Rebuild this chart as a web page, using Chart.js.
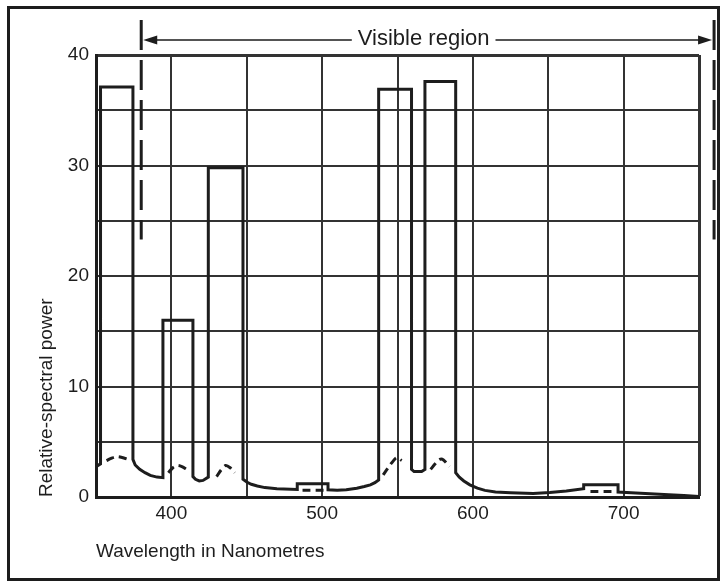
<!DOCTYPE html>
<html>
<head>
<meta charset="utf-8">
<title>Relative spectral power</title>
<script src="https://cdn.jsdelivr.net/npm/chart.js@4"></script>
<style>
  html, body { margin: 0; padding: 0; background: #fff; }
  #chart { display: block; }
</style>
</head>
<body>
<canvas id="chart" width="726" height="585"></canvas>
<script>
// Solid trace: continuum plus the mercury lines drawn as flat-topped blocks
const wavelengths = [
  350, 353, 353, 374.5, 374.5, 376, 379, 382.5, 386, 390.5, 394.4,
  394.4, 414.3, 414.3, 416, 418.5, 421, 424.5,
  424.5, 447.5, 447.5, 450, 453, 457, 462, 470, 483.5,
  483.5, 503.9, 503.9, 510, 516, 523, 528, 532, 535, 537.5,
  537.5, 559.3, 559.3, 561, 566, 568.2,
  568.2, 588.6, 588.6, 591, 594, 598, 603, 608, 615, 625, 640, 651, 662, 673.5,
  673.5, 696.3, 696.3, 705, 717.5, 730, 740, 750
];
const power = [
  2.75, 3.0, 37.1, 37.1, 3.4, 2.9, 2.5, 2.2, 1.95, 1.8, 1.75,
  16.0, 16.0, 1.85, 1.6, 1.45, 1.5, 1.8,
  29.8, 29.8, 1.6, 1.35, 1.15, 1.0, 0.85, 0.75, 0.68,
  1.2, 1.2, 0.65, 0.6, 0.65, 0.8, 0.95, 1.1, 1.3, 1.55,
  36.9, 36.9, 2.5, 2.3, 2.3, 2.5,
  37.6, 37.6, 2.2, 1.8, 1.45, 1.1, 0.8, 0.6, 0.45, 0.38, 0.32, 0.4, 0.55, 0.75,
  1.1, 1.1, 0.45, 0.38, 0.3, 0.2, 0.13, 0.05
];

// Dashed trace: the continuum hidden under each line (null = break)
const hiddenWavelengths = [
  357, 360, 364, 368, 371.5, 380,
  398, 401, 404, 407, 410, 412, 420,
  430, 433, 436, 439, 442, 460,
  487, 501, 520,
  540.5, 543.5, 546.5, 549.5, 552.8, 562,
  572, 575, 578, 580.5, 584.5, 620,
  678, 692
];
const hiddenPower = [
  3.3, 3.5, 3.65, 3.55, 3.4, null,
  2.2, 2.65, 2.85, 2.75, 2.5, 2.3, null,
  1.85, 2.45, 2.85, 2.65, 2.2, null,
  0.6, 0.6, null,
  2.0, 2.6, 3.15, 3.55, 3.3, null,
  2.5, 3.0, 3.4, 3.35, 2.75, null,
  0.5, 0.5
];

// Tick labels that are written out (grid runs every 50 nm / 5 units)
const xTickLabels = [400, 500, 600, 700];
const yTickLabels = [0, 10, 20, 30, 40];

// Limits of the visible region, in nm
const visibleRange = [380, 760];

const ink = "#1d1d1d";
const fontFamily = "'Liberation Sans', Arial, sans-serif";

function toPoints(xs, ys) {
  return xs.map((x, i) => ({ x: x, y: ys[i] }));
}

// Frame round the whole figure
const framePlugin = {
  id: "frame",
  beforeDraw(chart) {
    const ctx = chart.ctx;
    ctx.save();
    ctx.fillStyle = "#fff";
    ctx.fillRect(0, 0, chart.width, chart.height);
    ctx.strokeStyle = ink;
    ctx.lineWidth = 3;
    ctx.strokeRect(8.5, 7.5, chart.width - 16, chart.height - 13);
    ctx.restore();
  }
};

// "Visible region" arrow with the two dashed limits
const visiblePlugin = {
  id: "visibleRegion",
  afterDraw(chart) {
    const { ctx, chartArea } = chart;
    const xs = chart.scales.x;
    const ys = chart.scales.y;
    const x1 = xs.getPixelForValue(visibleRange[0]);
    const x2 = xs.getPixelForValue(visibleRange[1]);
    const top = chartArea.top - 35;
    const bottom = ys.getPixelForValue(23.3);
    const arrowY = chartArea.top - 15;

    ctx.save();
    ctx.strokeStyle = ink;
    ctx.fillStyle = ink;

    // dashed limits
    ctx.lineWidth = 3;
    ctx.setLineDash([30, 10]);
    [x1, x2].forEach(px => {
      ctx.beginPath();
      ctx.moveTo(px, top);
      ctx.lineTo(px, bottom);
      ctx.stroke();
    });
    ctx.setLineDash([]);

    // label
    const label = "Visible region";
    ctx.font = `22px ${fontFamily}`;
    ctx.textAlign = "center";
    ctx.textBaseline = "middle";
    const mid = (x1 + x2) / 2 - 4;
    const w = ctx.measureText(label).width;
    ctx.fillText(label, mid, arrowY - 1);

    // arrow shafts
    ctx.lineWidth = 1.5;
    ctx.beginPath();
    ctx.moveTo(x1 + 10, arrowY);
    ctx.lineTo(mid - w / 2 - 6, arrowY);
    ctx.moveTo(mid + w / 2 + 6, arrowY);
    ctx.lineTo(x2 - 10, arrowY);
    ctx.stroke();

    // arrow heads
    ctx.beginPath();
    ctx.moveTo(x1 + 2, arrowY);
    ctx.lineTo(x1 + 16, arrowY - 4.5);
    ctx.lineTo(x1 + 16, arrowY + 4.5);
    ctx.closePath();
    ctx.moveTo(x2 - 2, arrowY);
    ctx.lineTo(x2 - 16, arrowY - 4.5);
    ctx.lineTo(x2 - 16, arrowY + 4.5);
    ctx.closePath();
    ctx.fill();
    ctx.restore();
  }
};

new Chart(document.getElementById("chart"), {
  type: "line",
  data: {
    datasets: [
      {
        data: toPoints(wavelengths, power),
        borderColor: ink,
        borderWidth: 3,
        pointRadius: 0,
        tension: 0,
        borderJoinStyle: "miter"
      },
      {
        data: toPoints(hiddenWavelengths, hiddenPower),
        borderColor: ink,
        borderWidth: 3,
        borderDash: [8, 5],
        pointRadius: 0,
        tension: 0.3,
        spanGaps: false
      }
    ]
  },
  options: {
    responsive: false,
    animation: false,
    layout: { padding: { top: 55, right: 27, left: 0, bottom: 0 } },
    plugins: {
      legend: { display: false },
      tooltip: { enabled: false }
    },
    scales: {
      x: {
        type: "linear",
        min: 350,
        max: 750,
        afterFit: s => { s.height = 88; },
        ticks: {
          stepSize: 50,
          autoSkip: false,
          maxRotation: 0,
          padding: 5,
          color: ink,
          font: { family: fontFamily, size: 19 },
          callback: v => xTickLabels.includes(v) ? String(v) : ""
        },
        // the last gridline is the right edge of the box, a little heavier
        grid: {
          color: "#333",
          lineWidth: c => (c.tick && c.tick.value === 750) ? 3 : 2,
          drawTicks: false
        },
        border: { color: ink, width: 3 },
        title: {
          display: true,
          text: "Wavelength in Nanometres",
          align: "start",
          color: ink,
          font: { family: fontFamily, size: 19 },
          padding: { top: 0, bottom: 22 }
        }
      },
      y: {
        min: 0,
        max: 40,
        afterFit: s => { s.width = 96; },
        ticks: {
          stepSize: 5,
          autoSkip: false,
          padding: 7,
          color: ink,
          font: { family: fontFamily, size: 19 },
          callback: v => yTickLabels.includes(v) ? String(v) : ""
        },
        grid: {
          color: "#333",
          lineWidth: c => (c.tick && c.tick.value === 40) ? 3 : 2,
          drawTicks: false
        },
        border: { color: ink, width: 3 },
        title: {
          display: true,
          text: "Relative-spectral power",
          align: "start",
          color: ink,
          font: { family: fontFamily, size: 19 },
          padding: { top: 35, bottom: 0 }
        }
      }
    }
  },
  plugins: [framePlugin, visiblePlugin]
});
</script>
</body>
</html>
